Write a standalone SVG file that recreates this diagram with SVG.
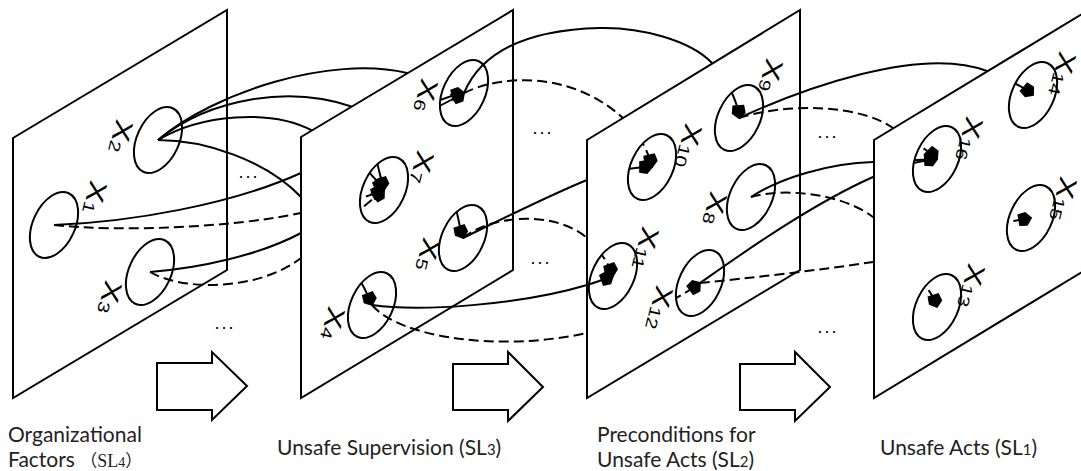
<svg xmlns="http://www.w3.org/2000/svg" width="1081" height="471" viewBox="0 0 1081 471">
<style>
.panel{fill:#fff;stroke:#000;stroke-width:2;stroke-linejoin:miter}
.blk{fill:#fff;stroke:#000;stroke-width:2;stroke-linejoin:miter}
.node ellipse{fill:none;stroke:#000;stroke-width:2}
.conn path{fill:none;stroke:#000;stroke-width:2;marker-end:url(#ah)}
.conn path.d{stroke-dasharray:10 5}
.lbl{font-family:"Liberation Sans",Arial,sans-serif;font-size:25px;fill:#000}
.sub{font-size:16px}
.dots{font-family:"Liberation Sans",Arial,sans-serif;font-size:18px;letter-spacing:2px;text-anchor:middle;fill:#000}
.cap{font-family:Lato,"Open Sans",sans-serif;font-size:21px;fill:#222}
</style>
<defs>
<marker id="ah" markerUnits="userSpaceOnUse" markerWidth="14" markerHeight="14" viewBox="0 0 12 12" refX="11" refY="6" orient="auto" overflow="visible">
<path d="M0,1 L7,0 L12,6 L7,12 L0,11 Z" fill="#000" stroke="none"/>
</marker>
<mask id="m2" maskUnits="userSpaceOnUse" x="0" y="0" width="1081" height="471">
<rect width="1081" height="471" fill="#fff"/>
<polygon points="301,137 513,10 513,270 301,398" fill="#000"/>
<ellipse cx="464" cy="93" rx="21" ry="35" transform="rotate(25 464 93)" fill="#fff"/>
<ellipse cx="384" cy="190" rx="21" ry="35" transform="rotate(25 384 190)" fill="#fff"/>
<ellipse cx="463" cy="238" rx="21" ry="35" transform="rotate(25 463 238)" fill="#fff"/>
<ellipse cx="372" cy="305" rx="21" ry="35" transform="rotate(25 372 305)" fill="#fff"/>
</mask>
<mask id="m3" maskUnits="userSpaceOnUse" x="0" y="0" width="1081" height="471">
<rect width="1081" height="471" fill="#fff"/>
<polygon points="587,140 800,10 800,270 587,398" fill="#000"/>
<ellipse cx="739" cy="118" rx="21" ry="35" transform="rotate(25 739 118)" fill="#fff"/>
<ellipse cx="652" cy="167" rx="21" ry="35" transform="rotate(25 652 167)" fill="#fff"/>
<ellipse cx="751" cy="197" rx="21" ry="35" transform="rotate(25 751 197)" fill="#fff"/>
<ellipse cx="613" cy="276" rx="21" ry="35" transform="rotate(25 613 276)" fill="#fff"/>
<ellipse cx="700" cy="283" rx="21" ry="35" transform="rotate(25 700 283)" fill="#fff"/>
</mask>
<mask id="m4" maskUnits="userSpaceOnUse" x="0" y="0" width="1081" height="471">
<rect width="1081" height="471" fill="#fff"/>
<polygon points="874,140 1087,11 1087,269 874,398" fill="#000"/>
<ellipse cx="1033" cy="95" rx="21" ry="35" transform="rotate(25 1033 95)" fill="#fff"/>
<ellipse cx="937" cy="159" rx="21" ry="35" transform="rotate(25 937 159)" fill="#fff"/>
<ellipse cx="1031" cy="218" rx="21" ry="35" transform="rotate(25 1031 218)" fill="#fff"/>
<ellipse cx="937" cy="307" rx="21" ry="35" transform="rotate(25 937 307)" fill="#fff"/>
</mask>
</defs>
<rect width="1081" height="471" fill="#fff"/>

<g id="panels">
<polygon id="panel-sl4" class="panel" points="13,138 227,10 227,270 13,398"/>
<polygon id="panel-sl3" class="panel" points="301,137 513,10 513,270 301,398"/>
<polygon id="panel-sl2" class="panel" points="587,140 800,10 800,270 587,398"/>
<polygon id="panel-sl1" class="panel" points="874,140 1087,11 1087,269 874,398"/>
</g>

<g id="flow-arrows">
<path class="blk" d="M157,363 H212 V352 L247,386 L212,420 V410 H157 Z"/>
<path class="blk" d="M453,364 H508 V352 L543,387 L508,421 V410 H453 Z"/>
<path class="blk" d="M740,364 H795 V352 L830,387 L795,421 V410 H740 Z"/>
</g>

<g id="connectors" class="conn">
<g mask="url(#m2)">
<path d="M158,140 C215,92 330,55 407,73 C440,80 452,205 463,238"/>
<path d="M158,140 C210,98 290,85 353,107 C368,112 378,170 384,190"/>
<path d="M158,140 C200,115 270,108 313,131 C340,145 370,170 384,190"/>
<path d="M158,140 C205,140 265,160 301,197 C330,227 362,280 372,305"/>
<path d="M54,225 C130,222 230,205 301,173 C340,155 430,112 464,93"/>
<path class="d" d="M54,225 C120,232 230,228 301,213 C330,207 365,198 384,190"/>
<path d="M150,272 C200,268 260,255 301,233 C330,200 380,110 464,93"/>
<path class="d" d="M150,272 C185,292 260,290 301,258 C330,235 365,205 384,190"/>
</g>
<g mask="url(#m3)">
<path d="M464,93 C480,55 520,30 600,28 C640,27 690,40 712,63 C725,77 738,100 739,118"/>
<path class="d" d="M464,93 C500,75 570,70 623,118 C638,132 648,150 652,167"/>
<path d="M463,238 C500,220 550,195 587,180 C610,171 635,167 652,167"/>
<path class="d" d="M463,238 C490,215 555,210 587,238 C598,248 608,262 613,276"/>
<path d="M372,305 C420,312 520,305 587,285 C597,282 605,279 613,276"/>
<path class="d" d="M372,305 C400,338 500,352 587,333 C620,326 670,305 700,283"/>
</g>
<g mask="url(#m4)">
<path d="M739,118 C800,90 920,45 987,71 C1010,80 1025,88 1033,95"/>
<path class="d" d="M739,118 C790,102 860,105 893,128 C910,140 928,150 937,159"/>
<path d="M751,197 C780,178 830,163 873,162 C900,161 920,160 937,159"/>
<path class="d" d="M751,197 C780,188 840,192 873,217 C905,240 990,225 1031,218"/>
<path d="M700,283 C740,255 810,205 873,177 C900,165 925,160 937,159"/>
<path class="d" d="M700,283 C750,278 820,270 873,262 C905,257 930,285 937,307"/>
</g>
</g>

<g id="x1" class="node"><ellipse cx="54" cy="225" rx="21" ry="35" transform="rotate(25 54 225)"/><text class="lbl" transform="translate(97,192) rotate(104) scale(1.3,1)" x="-8.3" y="9">X<tspan class="sub" dy="1">1</tspan></text></g>
<g id="x2" class="node"><ellipse cx="158" cy="140" rx="21" ry="35" transform="rotate(25 158 140)"/><text class="lbl" transform="translate(123,131) rotate(104) scale(1.3,1)" x="-8.3" y="9">X<tspan class="sub" dy="1">2</tspan></text></g>
<g id="x3" class="node"><ellipse cx="150" cy="272" rx="21" ry="35" transform="rotate(25 150 272)"/><text class="lbl" transform="translate(112,292) rotate(104) scale(1.3,1)" x="-8.3" y="9">X<tspan class="sub" dy="1">3</tspan></text></g>
<g id="x6" class="node"><ellipse cx="464" cy="93" rx="21" ry="35" transform="rotate(25 464 93)"/><text class="lbl" transform="translate(428,90) rotate(104) scale(1.3,1)" x="-8.3" y="9">X<tspan class="sub" dy="1">6</tspan></text></g>
<g id="x7" class="node"><ellipse cx="384" cy="190" rx="21" ry="35" transform="rotate(25 384 190)"/><text class="lbl" transform="translate(424,162) rotate(104) scale(1.3,1)" x="-8.3" y="9">X<tspan class="sub" dy="1">7</tspan></text></g>
<g id="x5" class="node"><ellipse cx="463" cy="238" rx="21" ry="35" transform="rotate(25 463 238)"/><text class="lbl" transform="translate(430,249) rotate(104) scale(1.3,1)" x="-8.3" y="9">X<tspan class="sub" dy="1">5</tspan></text></g>
<g id="x4" class="node"><ellipse cx="372" cy="305" rx="21" ry="35" transform="rotate(25 372 305)"/><text class="lbl" transform="translate(335,318) rotate(104) scale(1.3,1)" x="-8.3" y="9">X<tspan class="sub" dy="1">4</tspan></text></g>
<g id="x9" class="node"><ellipse cx="739" cy="118" rx="21" ry="35" transform="rotate(25 739 118)"/><text class="lbl" transform="translate(773,70) rotate(104) scale(1.3,1)" x="-8.3" y="9">X<tspan class="sub" dy="1">9</tspan></text></g>
<g id="x10" class="node"><ellipse cx="652" cy="167" rx="21" ry="35" transform="rotate(25 652 167)"/><text class="lbl" transform="translate(692,135) rotate(104) scale(1.3,1)" x="-8.3" y="9">X<tspan class="sub" dy="1">10</tspan></text></g>
<g id="x8" class="node"><ellipse cx="751" cy="197" rx="21" ry="35" transform="rotate(25 751 197)"/><text class="lbl" transform="translate(717,203) rotate(104) scale(1.3,1)" x="-8.3" y="9">X<tspan class="sub" dy="1">8</tspan></text></g>
<g id="x11" class="node"><ellipse cx="613" cy="276" rx="21" ry="35" transform="rotate(25 613 276)"/><text class="lbl" transform="translate(649,238) rotate(104) scale(1.3,1)" x="-8.3" y="9">X<tspan class="sub" dy="1">11</tspan></text></g>
<g id="x12" class="node"><ellipse cx="700" cy="283" rx="21" ry="35" transform="rotate(25 700 283)"/><text class="lbl" transform="translate(663,297) rotate(104) scale(1.3,1)" x="-8.3" y="9">X<tspan class="sub" dy="1">12</tspan></text></g>
<g id="x14" class="node"><ellipse cx="1033" cy="95" rx="21" ry="35" transform="rotate(25 1033 95)"/><text class="lbl" transform="translate(1066,63) rotate(104) scale(1.3,1)" x="-8.3" y="9">X<tspan class="sub" dy="1">14</tspan></text></g>
<g id="x16" class="node"><ellipse cx="937" cy="159" rx="21" ry="35" transform="rotate(25 937 159)"/><text class="lbl" transform="translate(973,128) rotate(104) scale(1.3,1)" x="-8.3" y="9">X<tspan class="sub" dy="1">16</tspan></text></g>
<g id="x15" class="node"><ellipse cx="1031" cy="218" rx="21" ry="35" transform="rotate(25 1031 218)"/><text class="lbl" transform="translate(1067,188) rotate(104) scale(1.3,1)" x="-8.3" y="9">X<tspan class="sub" dy="1">15</tspan></text></g>
<g id="x13" class="node"><ellipse cx="937" cy="307" rx="21" ry="35" transform="rotate(25 937 307)"/><text class="lbl" transform="translate(975,275) rotate(104) scale(1.3,1)" x="-8.3" y="9">X<tspan class="sub" dy="1">13</tspan></text></g>

<g id="ellipses-more">
<text class="dots" x="249" y="178">...</text>
<text class="dots" x="225" y="329">...</text>
<text class="dots" x="543" y="134">...</text>
<text class="dots" x="541" y="264">...</text>
<text class="dots" x="828" y="138">...</text>
<text class="dots" x="828" y="333">...</text>
</g>

<g id="captions">
<text class="cap" x="8" y="442">Organizational</text>
<text class="cap" x="8" y="467">Factors <tspan font-family="'Noto Sans CJK SC',sans-serif" font-size="17">（</tspan><tspan font-family="'Liberation Serif',serif" font-size="18">SL</tspan><tspan font-family="'Liberation Serif',serif" font-size="14">4</tspan><tspan font-family="'Noto Sans CJK SC',sans-serif" font-size="17">）</tspan></text>
<text class="cap" x="277" y="455">Unsafe Supervision (SL<tspan font-size="15">3</tspan>)</text>
<text class="cap" x="597" y="442">Preconditions for</text>
<text class="cap" x="597" y="467">Unsafe Acts (SL<tspan font-size="15">2</tspan>)</text>
<text class="cap" x="880" y="455">Unsafe Acts (SL<tspan font-size="15">1</tspan>)</text>
</g>
</svg>
